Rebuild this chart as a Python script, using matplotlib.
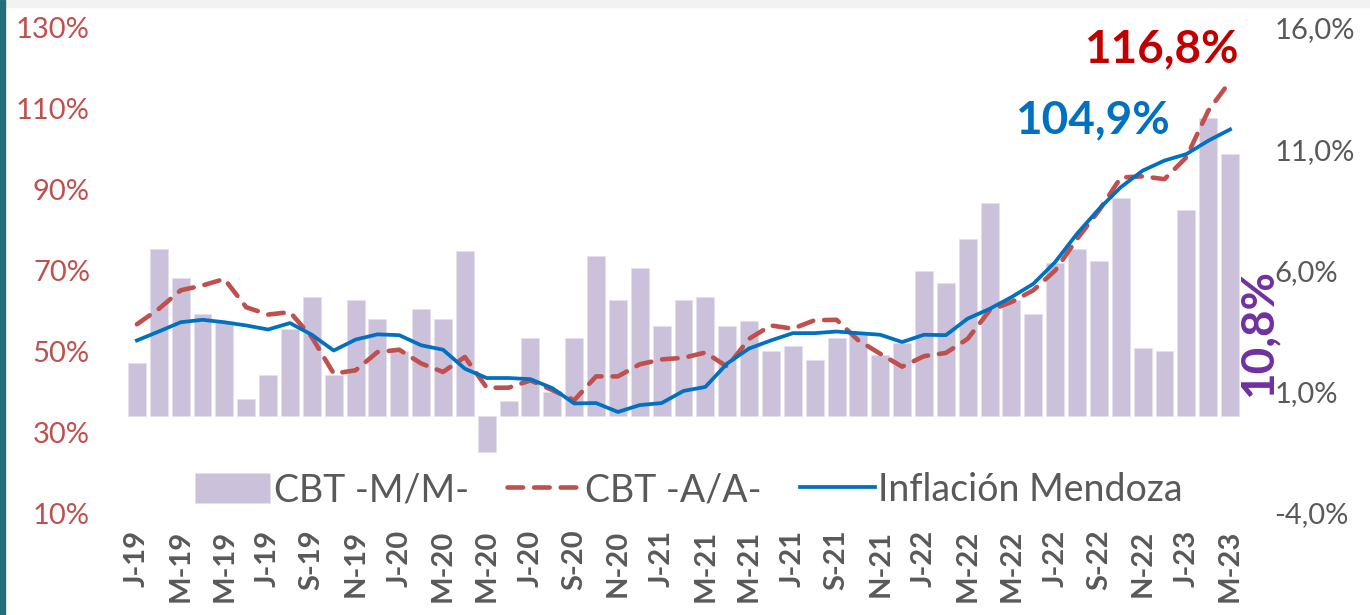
import numpy as np
import matplotlib
matplotlib.use("Agg")
import matplotlib.pyplot as plt
from matplotlib.patches import Rectangle

plt.rcParams['font.family'] = ['Lato', 'DejaVu Sans']

# monthly data Jan-2019 .. Mar-2023
cbt_mm = [2.2, 6.9, 5.7, 4.2, 3.9, 0.7, 1.7, 3.6, 4.9, 1.7, 4.8, 4.0, 2.7, 4.4, 4.0, 6.8,
          -1.5, 0.6, 3.2, 1.0, 3.2, 6.6, 4.8, 6.1, 3.7, 4.8, 4.9, 3.7, 3.9, 2.7, 2.9, 2.3,
          3.2, 3.4, 2.5, 3.0, 6.0, 5.5, 7.3, 8.8, 4.8, 4.2, 6.3, 6.9, 6.4, 9.0, 2.8, 2.7,
          8.5, 12.3, 10.8]
cbt_aa = [56.7, 60.5, 65.1, 66.3, 67.9, 60.9, 59.1, 59.7, 53.5, 44.5, 45.3, 49.8, 50.4, 47.0,
          44.9, 48.6, 41.0, 41.0, 42.8, 40.4, 37.9, 43.8, 43.8, 46.8, 48.0, 48.4, 49.7, 46.2,
          53.1, 56.4, 55.6, 57.7, 57.8, 52.7, 49.4, 46.2, 48.8, 49.6, 53.1, 60.1, 62.2, 65.1,
          70.0, 77.8, 84.8, 93.0, 93.3, 92.6, 98.0, 109.5, 116.8]
infl_mza = [52.7, 54.9, 57.2, 57.8, 57.2, 56.4, 55.4, 57.0, 54.1, 50.2, 52.9, 54.2, 54.0, 51.5,
            50.4, 45.7, 43.4, 43.4, 43.1, 40.9, 37.1, 37.2, 35.0, 36.7, 37.2, 40.2, 41.2, 47.0,
            50.7, 52.7, 54.5, 54.5, 54.9, 54.5, 54.1, 52.3, 54.1, 54.0, 58.1, 60.5, 63.4, 66.7,
            72.1, 79.1, 85.2, 90.6, 94.7, 97.2, 98.8, 102.1, 104.9]
tick_labels = ['J-19', 'M-19', 'M-19', 'J-19', 'S-19', 'N-19',
               'J-20', 'M-20', 'M-20', 'J-20', 'S-20', 'N-20',
               'J-21', 'M-21', 'M-21', 'J-21', 'S-21', 'N-21',
               'J-22', 'M-22', 'M-22', 'J-22', 'S-22', 'N-22',
               'J-23', 'M-23']
left_ticks = [10, 30, 50, 70, 90, 110, 130]
right_ticks = [-4, 1, 6, 11, 16]

GREY = '#595959'
x = np.arange(len(cbt_mm))

fig = plt.figure(figsize=(13.7, 6.15), dpi=100)
fig.patches.append(Rectangle((0, 0.988), 1, 0.012, transform=fig.transFigure,
                             color='#F2F2F2', zorder=0))
fig.patches.append(Rectangle((0, 0), 0.004, 1, transform=fig.transFigure,
                             color='#1F6F7C', zorder=0))

ax = fig.add_axes([126 / 1370, 1 - 513 / 615, 1115 / 1370, 485 / 615])
ax2 = ax.twinx()

# bars on the right-hand scale
ax.bar(x, cbt_mm, width=0.82, color='#CCC1DA', edgecolor='#E6E0EE', linewidth=0.6,
       label='CBT -M/M-')
ax.set_ylim(-4, 16)
ax.set_xlim(-0.5, len(x) - 0.5)
ax.yaxis.tick_right()
ax.set_yticks(right_ticks)
ax.set_yticklabels([f'{v:.1f}%'.replace('.', ',') for v in right_ticks])
ax.tick_params(axis='y', length=0, labelsize=21, labelcolor=GREY, pad=24)
ax.set_xticks(x[::2])
ax.set_xticklabels(tick_labels, rotation=90, fontsize=21, fontweight='bold', color=GREY,
                   va='top')
ax.tick_params(axis='x', length=0, pad=12)
for s in ax.spines.values():
    s.set_visible(False)

# lines on the left-hand scale
ax2.plot(x, cbt_aa, color='#C0504D', lw=3.3, ls=(0, (3.4, 2.4)),
         dash_capstyle='round', label='CBT -A/A-')
ax2.plot(x, infl_mza, color='#0070C0', lw=2.7, label='Inflación Mendoza')
ax2.set_ylim(10, 130)
ax2.yaxis.tick_left()
ax2.set_yticks(left_ticks)
ax2.set_yticklabels([f'{v}%' for v in left_ticks])
ax2.tick_params(axis='y', length=0, labelsize=21, labelcolor='#C0504D', pad=26)
for s in ax2.spines.values():
    s.set_visible(False)

h1, l1 = ax.get_legend_handles_labels()
h2, l2 = ax2.get_legend_handles_labels()
leg = ax2.legend(h1 + h2, l1 + l2, loc='center', bbox_to_anchor=(0.505, 0.047), ncol=3,
                 frameon=False, fontsize=27, handlelength=2.0, handleheight=0.85,
                 handletextpad=0.1, columnspacing=1.0, borderaxespad=0)
for t in leg.get_texts():
    t.set_color(GREY)

# value call-outs
ax2.text(x[-1] + 0.4, 119.5, '116,8%', color='#C00000', fontsize=33,
         fontweight='bold', ha='right', va='bottom')
ax2.text(x[-4] + 0.25, 102, '104,9%', color='#0070C0', fontsize=33,
         fontweight='bold', ha='right', va='bottom')
ax.text(x[-1] + 1.3, 0.8, '10,8%', color='#7030A0', fontsize=33, fontweight='bold',
        rotation=90, ha='center', va='bottom')

fig.savefig('out.png', dpi=100)
